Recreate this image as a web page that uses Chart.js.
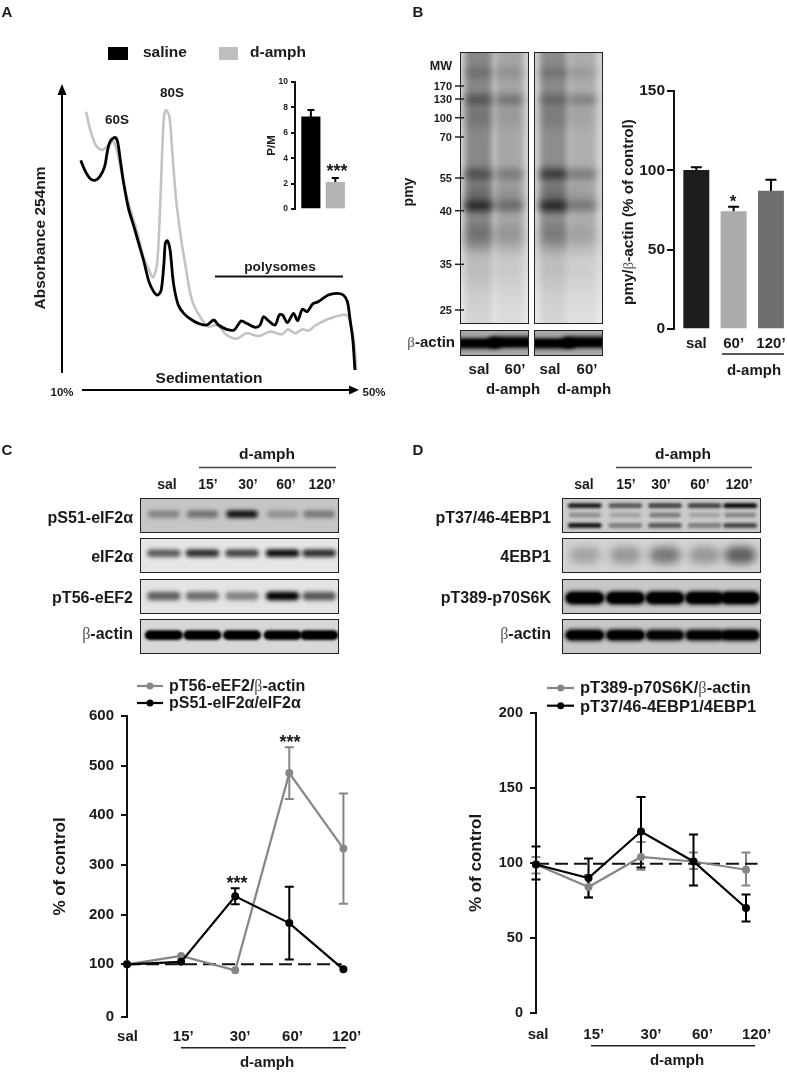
<!DOCTYPE html>
<html>
<head>
<meta charset="utf-8">
<title>Figure</title>
<script src="https://cdn.jsdelivr.net/npm/chart.js@4/dist/chart.umd.js"></script>
<style>
  html, body { margin: 0; padding: 0; background: #fff; }
  #page { position: relative; width: 787px; height: 1072px; overflow: hidden; font-family: "Liberation Sans", Arial, sans-serif; color: #1a1a1a; }
  #page canvas { position: absolute; }
  #page svg { position: absolute; left: 0; top: 0; }
  .t { position: absolute; white-space: nowrap; font-weight: bold; line-height: 1; }
  .b { font-family: "Liberation Serif", serif; font-weight: normal; color: #555; }
  .blot { border: 1.5px solid #222; box-sizing: border-box; }
</style>
</head>
<body>
<div id="page"></div>
<script>
// A: sedimentation profile (gradient %, absorbance)
var salineX = [9.8,10.5,11.2,11.9,12.6,13.3,13.7,14.1,14.8,15.2,15.6,16.1,16.8,17.6,18.3,19.0,19.8,20.5,21.1,21.6,22.0,22.2,22.5,22.9,23.4,24.1,24.9,26.1,27.3,28.3,29.3,30.0,31.2,32.3,33.3,34.1,35.4,36.1,36.6,37.3,38.3,38.9,39.4,40.1,41.0,41.6,42.3,43.0,43.8,44.6,46.1,47.3,48.3,48.9,49.3,49.7,50.0];
var salineY = [62.9,59.5,57.4,56.9,58.0,61.0,65.5,68.5,69.8,68.5,63.0,56.0,48.5,43.0,38.0,33.0,26.5,23.5,22.5,24.0,32.0,38.0,38.8,36.0,26.0,19.5,17.0,15.0,13.8,13.5,15.0,13.5,12.2,12.0,14.7,14.0,12.8,13.5,16.0,14.8,13.5,16.5,16.5,14.2,17.0,14.8,18.2,17.5,19.8,20.5,22.5,23.0,22.5,20.5,15.0,9.0,0];
var amphX = [10.6,11.2,12.0,12.9,13.9,14.6,15.2,15.9,16.8,18.0,19.0,19.8,20.4,21.0,21.4,21.7,22.0,22.3,22.8,23.2,23.7,24.4,25.1,26.1,27.3,28.5,29.8,31.2,32.7,34.1,35.9,37.6,39.3,40.2,41.2,42.3,43.2,44.1,46.1,48.8,49.4,49.9,50.2];
var amphY = [77.5,72.0,67.5,66.0,67.5,68.5,65.0,58.0,50.0,42.0,34.0,30.0,27.8,32.0,47.0,63.0,76.0,78.0,76.0,66.0,53.0,41.0,32.0,21.0,16.0,13.0,13.5,10.5,9.4,11.0,10.2,11.5,10.7,12.2,11.0,12.2,11.8,13.2,15.3,16.5,13.5,8.0,0];

// A inset: P/M
var pmValues = [7.25, 2.1];
var pmHigh = [7.8, 2.45];
var pmTicks = [0, 2, 4, 6, 8, 10];

// B: pmy/actin
var pmyLabels = ['sal', '60\u2019', '120\u2019'];
var pmyValues = [100, 74, 87];
var pmyHigh = [102, 77, 94];
var pmyTicks = [0, 50, 100, 150];

// C and D: time course
var timeLabels = ['sal', '15\u2019', '30\u2019', '60\u2019', '120\u2019'];
var timePos = [0, 1, 2, 3, 4];
var cLabelPos = [0.01, 1.04, 2.09, 3.06, 4.06];
var dLabelPos = [0.04, 1.10, 2.19, 3.17, 4.20];

var eEF2 = [100, 117, 88, 485, 333];
var eEF2Low = [100, 117, 88, 433, 222];
var eEF2High = [100, 117, 88, 537, 444];
var eIF2 = [100, 105, 237, 183, 90];
var eIF2Low = [100, 105, 221, 110, 90];
var eIF2High = [100, 105, 253, 256, 90];
var cTickVals = [-6, 100, 200, 300, 400, 500, 600];
var cTickText = ['0', '100', '200', '300', '400', '500', '600'];

var p70 = [99, 84, 104, 101, 95.5];
var p70Low = [93, 77, 95.5, 96, 85];
var p70High = [104, 92, 114, 107, 107];
var ebp = [99, 90, 121, 101, 70];
var ebpLow = [89, 77, 97, 85, 61];
var ebpHigh = [111, 103, 144, 119, 79];
var dTicks = [0, 50, 100, 150, 200];

// band strength per lane, read by eye from the blots
var pS51Bands = [.32, .42, .9, .26, .38];
var eIF2Bands = [.6, .8, .7, .95, .8];
var pT56Bands = [.58, .52, .42, 1, .62];
var cActinBands = [1, 1, 1, .95, 1];
var ebpTopBands = [.9, .6, .7, .7, 1];
var ebpMidBands = [.3, .2, .4, .2, .35];
var ebpLowBands = [.95, .4, .6, .4, .7];
var ebpTotalBands = [.22, .28, .42, .28, .55];
var p70Bands = [1, 1, 1, 1, 1];
var dActinBands = [1, 1, .85, .9, 1];
var pmyRows = [[.25,.18],[.48,.38],[.2,.1],[.55,.34],[.3,.16],[.9,.46],[.3,.18],[.06,.03]];
var pmyRows2 = [[.25,.16],[.36,.32],[.16,.08],[.78,.38],[.3,.14],[.95,.4],[.24,.14],[.05,.02]];

var page = document.getElementById('page');
var dark = '#111', midGray = '#868686', lightTrace = '#c2c3c4';
Chart.defaults.font.family = '"Liberation Sans", Arial, sans-serif';
Chart.defaults.font.weight = 'bold';
Chart.defaults.color = '#1a1a1a';

var errorBars = {
  id: 'errorBars',
  beforeDatasetsDraw: function (chart) {
    var ctx = chart.ctx, yS = chart.scales.y, xS = chart.scales.x;
    for (var d = chart.data.datasets.length - 1; d >= 0; d--) {
      var ds = chart.data.datasets[d];
      if (!ds.errHigh) continue;
      ctx.save();
      ctx.strokeStyle = ds.errColor || ds.borderColor;
      ctx.lineWidth = ds.errWidth || 2;
      ds.data.forEach(function (pt, i) {
        var x = xS.getPixelForValue(pt.x);
        var hi = yS.getPixelForValue(ds.errHigh[i]);
        var lo = yS.getPixelForValue(ds.errLow ? ds.errLow[i] : pt.y);
        if (hi === lo) return;
        var c = ds.capSize;
        ctx.beginPath();
        ctx.moveTo(x, lo); ctx.lineTo(x, hi);
        ctx.moveTo(x - c, hi); ctx.lineTo(x + c, hi);
        if (ds.errLow) { ctx.moveTo(x - c, lo); ctx.lineTo(x + c, lo); }
        ctx.stroke();
      });
      ctx.restore();
    }
  }
};

// plot box is given in page pixels, canvas is placed round it
function makeChart(box, yW, xH, pad, config) {
  var cv = document.createElement('canvas');
  var w = yW + (box.r - box.l) + pad.r, h = pad.t + (box.b - box.t) + xH + pad.b;
  cv.width = w; cv.height = h;
  cv.style.left = (box.l - yW) + 'px';
  cv.style.top = (box.t - pad.t) + 'px';
  cv.style.width = w + 'px';
  cv.style.height = h + 'px';
  page.appendChild(cv);
  config.options = Object.assign({
    responsive: false, animation: false, devicePixelRatio: 1,
    layout: { autoPadding: false, padding: { top: pad.t, right: pad.r, bottom: pad.b, left: 0 } },
    plugins: { legend: { display: false }, tooltip: { enabled: false }, title: { display: false } }
  }, config.options);
  config.plugins = [errorBars];
  return new Chart(cv.getContext('2d'), config);
}

function yAxis(min, max, vals, text, size, tickLen, yW, labelPad, title, titleSize) {
  return {
    type: 'linear', min: min, max: max,
    border: { display: true, color: dark, width: 2 },
    grid: { display: true, drawOnChartArea: false, drawTicks: true, tickLength: tickLen, color: dark, lineWidth: 2 },
    ticks: { autoSkip: false, padding: labelPad, color: '#1a1a1a', font: { size: size, weight: 'bold' }, callback: function (v, i) { return text[i]; } },
    title: title ? { display: true, text: title, color: '#1a1a1a', padding: 0, font: { size: titleSize, weight: 'bold' } } : { display: false },
    afterBuildTicks: function (s) { s.ticks = vals.map(function (v) { return { value: v }; }); },
    afterFit: function (s) { s.width = yW; }
  };
}

function xAxis(min, max, vals, text, xH, size, padding) {
  return {
    type: 'linear', min: min, max: max, offset: false,
    border: { display: false },
    grid: { display: false, drawTicks: false },
    ticks: { display: !!text, autoSkip: false, maxRotation: 0, padding: padding, color: '#1a1a1a', font: { size: size, weight: 'bold' }, callback: function (v, i) { return text ? text[i] : ''; } },
    afterBuildTicks: function (s) { s.ticks = vals.map(function (v) { return { value: v }; }); },
    afterFit: function (s) { s.height = xH; }
  };
}

function pts(xs, ys) { return xs.map(function (x, i) { return { x: x, y: ys[i] }; }); }

function barSet(values, high, colors, errColors, thick, cap) {
  return {
    data: pts(colors.map(function (c, i) { return i + 1; }), values),
    backgroundColor: colors, barThickness: thick, borderWidth: 0,
    errHigh: high, errColor: errColors, capSize: cap, errWidth: 2
  };
}

function lineSet(values, low, high, color) {
  return {
    data: pts(timePos, values), errLow: low, errHigh: high, capSize: 4.5,
    borderColor: color, backgroundColor: color, borderWidth: 2.2, tension: 0,
    pointRadius: 4, pointBackgroundColor: color, pointBorderWidth: 0, clip: false
  };
}

function dashSet(y, endX) {
  return { data: [{ x: 0, y: y }, { x: endX, y: y }], borderColor: dark, borderWidth: 2, borderDash: [13, 6], pointRadius: 0, tension: 0, clip: false };
}

// A trace
makeChart({ l: 48, t: 80, r: 389, b: 380 }, 0, 0, { t: 0, r: 0, b: 0 }, {
  type: 'line',
  data: { datasets: [
    { data: pts(salineX, salineY), borderColor: '#000', borderWidth: 2.8, pointRadius: 0, tension: .3, clip: false },
    { data: pts(amphX, amphY), borderColor: lightTrace, borderWidth: 2.6, pointRadius: 0, tension: .3, clip: false }
  ] },
  options: { scales: {
    x: { type: 'linear', display: false, min: 5, max: 55 },
    y: { type: 'linear', display: false, min: -3, max: 87 }
  } }
});

// A inset
makeChart({ l: 295, t: 82, r: 350, b: 209 }, 30, 0, { t: 12, r: 0, b: 12 }, {
  type: 'bar',
  data: { datasets: [barSet(pmValues, pmHigh, ['#000', '#b1b3b5'], ['#111', '#b1b3b5'], 18.5, 3.5)] },
  options: { scales: {
    x: xAxis(0.352, 2.6, [1, 2], null, 0, 8, 0),
    y: yAxis(0, 10, pmTicks, pmTicks, 8.5, 4, 30, 3, 'P/M', 11.5)
  } }
});

// B bars
makeChart({ l: 674, t: 91, r: 787, b: 329 }, 40, 24, { t: 16, r: 10, b: 0 }, {
  type: 'bar',
  data: { datasets: [barSet(pmyValues, pmyHigh, ['#1d1d1f', '#a9abad', '#6d6e70'], ['#1d1d1f', '#a9abad', '#6d6e70'], 25.3, 5.5)] },
  options: { scales: {
    x: xAxis(0.402, 3.43, [1, 2, 3], pmyLabels, 24, 15, 6),
    y: yAxis(0, 150, pmyTicks, pmyTicks, 15.5, 7, 40, 2)
  } }
});

// C line chart
makeChart({ l: 127, t: 716, r: 355, b: 1017 }, 77, 30, { t: 20, r: 30, b: 0 }, {
  type: 'line',
  data: { datasets: [
    lineSet(eIF2, eIF2Low, eIF2High, '#000'),
    lineSet(eEF2, eEF2Low, eEF2High, midGray),
    dashSet(100, 3.97)
  ] },
  options: { scales: {
    x: xAxis(0, 228 / 54.1, cLabelPos, timeLabels, 30, 15, 11),
    y: yAxis(-6, 600, cTickVals, cTickText, 15, 6, 77, 7, '% of control', 17)
  } }
});

// D line chart
makeChart({ l: 536, t: 713, r: 758, b: 1013 }, 70, 30, { t: 20, r: 30, b: 0 }, {
  type: 'line',
  data: { datasets: [
    lineSet(ebp, ebpLow, ebpHigh, '#000'),
    lineSet(p70, p70Low, p70High, midGray),
    dashSet(99.5, 4.22)
  ] },
  options: { scales: {
    x: xAxis(0, 222 / 52.5, dLabelPos, timeLabels, 30, 15, 13),
    y: yAxis(0, 200, dTicks, dTicks, 14.5, 6, 70, 7, '% of control', 17)
  } }
});

// blots
function blot(x, y, w, h, bg, paint) {
  var cv = document.createElement('canvas');
  cv.width = w; cv.height = h;
  cv.className = 'blot';
  cv.style.left = x + 'px'; cv.style.top = y + 'px';
  cv.style.width = w + 'px'; cv.style.height = h + 'px';
  var ctx = cv.getContext('2d');
  ctx.fillStyle = bg;
  ctx.fillRect(0, 0, w, h);
  paint(ctx);
  ctx.filter = 'none';
  page.appendChild(cv);
}

function bandRow(ctx, lanes, vals, yc, halfW, halfH, blur) {
  ctx.filter = 'blur(' + blur + 'px)';
  lanes.forEach(function (lx, i) {
    ctx.fillStyle = 'rgba(0,0,0,' + vals[i] + ')';
    ctx.beginPath();
    ctx.roundRect(lx - halfW, yc - halfH, 2 * halfW, 2 * halfH, halfH);
    ctx.fill();
  });
}

var cLanes = [23, 62, 102, 143, 180];
var dLanes = [22, 63, 103, 143, 179];
var rowTops = [498, 538, 579, 619];

blot(140, rowTops[0], 199, 35, '#c6c6c6', function (c) { bandRow(c, cLanes, pS51Bands, 16, 16, 4, 2.2); });
blot(140, rowTops[1], 199, 35, '#e6e6e6', function (c) { bandRow(c, cLanes, eIF2Bands, 15, 17, 4, 2); });
blot(140, rowTops[2], 199, 35, '#e4e4e4', function (c) { bandRow(c, cLanes, pT56Bands, 17, 17, 4.5, 2); });
blot(140, rowTops[3], 199, 35, '#d8d8d8', function (c) { bandRow(c, cLanes, cActinBands, 16, 19, 5, 1.5); bandRow(c, cLanes, cActinBands, 16, 18, 3.5, 1); });

blot(562, rowTops[0], 199, 35, '#cbcbcb', function (c) {
  bandRow(c, dLanes, ebpTopBands, 7, 17, 2.6, 1.7);
  bandRow(c, dLanes, ebpMidBands, 17, 16, 2.4, 1.8);
  bandRow(c, dLanes, ebpLowBands, 28, 17, 2.6, 1.7);
});
blot(562, rowTops[1], 199, 35, '#d4d4d4', function (c) { bandRow(c, dLanes, ebpTotalBands, 17, 16, 9, 4); });
blot(562, rowTops[2], 199, 35, '#c8c8c8', function (c) { bandRow(c, dLanes, p70Bands, 19, 20, 7, 2); bandRow(c, dLanes, p70Bands, 19, 18, 5, 1); });
blot(562, rowTops[3], 199, 35, '#c8c8c8', function (c) { bandRow(c, dLanes, dActinBands, 16, 20, 6, 2); bandRow(c, dLanes, dActinBands, 16, 18, 4, 1); });

var pmyRowY = [20, 47, 65, 122, 142, 154, 185, 220];
var pmyRowH = [5, 6, 10, 6, 10, 6, 12, 15];
function pmyPanel(x, w, lanes, rows, laneTone) {
  blot(x, 52, w, 272, '#d4d4d4', function (c) {
    var fade = c.createLinearGradient(0, 0, 0, 272);
    fade.addColorStop(0, 'rgba(255,255,255,0)');
    fade.addColorStop(.7, 'rgba(255,255,255,.1)');
    fade.addColorStop(1, 'rgba(255,255,255,.55)');
    c.fillStyle = fade;
    c.fillRect(0, 0, w, 272);
    c.filter = 'blur(3px)';
    lanes.forEach(function (lx, i) {
      var g = c.createLinearGradient(0, 0, 0, 272);
      g.addColorStop(0, 'rgba(0,0,0,' + laneTone[i] + ')');
      g.addColorStop(.66, 'rgba(0,0,0,' + laneTone[i] + ')');
      g.addColorStop(.76, 'rgba(0,0,0,' + (laneTone[i] * .35) + ')');
      g.addColorStop(1, 'rgba(0,0,0,' + (laneTone[i] * .25) + ')');
      c.fillStyle = g;
      c.fillRect(lx - 14, -10, 28, 292);
    });
    pmyRowY.forEach(function (yc, r) {
      bandRow(c, lanes, rows[r], yc, 15, pmyRowH[r] * .7, pmyRowH[r] * .5 + 1.5);
    });
  });
}
pmyPanel(460, 69, [18, 50], pmyRows, [.36, .22]);
pmyPanel(534, 69, [19, 49], pmyRows2, [.34, .18]);
function actinStrip(x, w) {
  blot(x, 330, w, 26, '#a8a8a8', function (c) {
    bandRow(c, [w * .25], [1], 13.5, w * .36, 5.5, 2);
    bandRow(c, [w * .75], [1], 12, w * .36, 6, 2);
    bandRow(c, [w * .25, w * .75], [.8, .9], 13, w * .3, 3.5, 1);
  });
}
actinStrip(460, 69);
actinStrip(534, 69);

// lines and arrows
var svgNS = 'http://www.w3.org/2000/svg';
var svg = document.createElementNS(svgNS, 'svg');
svg.setAttribute('width', 787); svg.setAttribute('height', 1072);
page.appendChild(svg);
function seg(x1, y1, x2, y2, color, w) {
  var l = document.createElementNS(svgNS, 'line');
  l.setAttribute('x1', x1); l.setAttribute('y1', y1); l.setAttribute('x2', x2); l.setAttribute('y2', y2);
  l.setAttribute('stroke', color || '#111'); l.setAttribute('stroke-width', w || 1.5);
  svg.appendChild(l);
}
function tri(p) {
  var t = document.createElementNS(svgNS, 'polygon');
  t.setAttribute('points', p); t.setAttribute('fill', '#000');
  svg.appendChild(t);
}
function dot(x, y, color) {
  var c = document.createElementNS(svgNS, 'circle');
  c.setAttribute('cx', x); c.setAttribute('cy', y); c.setAttribute('r', 3.5); c.setAttribute('fill', color);
  svg.appendChild(c);
}
function swatch(x, y, w, h, color) {
  var r = document.createElementNS(svgNS, 'rect');
  r.setAttribute('x', x); r.setAttribute('y', y); r.setAttribute('width', w); r.setAttribute('height', h); r.setAttribute('fill', color);
  svg.appendChild(r);
}
seg(62, 373, 62, 90, '#000', 2); tri('62,84 57.5,95 66.5,95');
seg(82, 390, 352, 390, '#000', 2); tri('359,390 349,385.5 349,394.5');
swatch(108, 47, 20, 13, '#000'); swatch(219, 47, 19, 13, '#bdbebf');
seg(215, 276.5, 343, 276.5, '#111', 2);
seg(722, 354, 784, 354, '#222', 1.5);
seg(199, 467.5, 336, 467.5, '#444', 1.5);
seg(616, 467.5, 752, 467.5, '#444', 1.5);
seg(181, 1047.7, 346, 1047.7, '#222', 1.5);
seg(591, 1045.7, 755, 1045.7, '#222', 1.5);
[86, 99, 117.7, 137, 178, 210.7, 264.3, 310].forEach(function (y) { seg(455, y, 464, y, '#222', 1.5); });
seg(137, 686, 163, 686, midGray, 2.2); dot(150, 686, midGray);
seg(137, 703, 163, 703, '#000', 2.2); dot(150, 703, '#000');
seg(547, 688, 574, 688, midGray, 2.2); dot(560.7, 688, midGray);
seg(547, 705.7, 574, 705.7, '#000', 2.2); dot(560.7, 705.7, '#000');

// text
function txt(html, x, y, size, align, rot) {
  var d = document.createElement('div');
  d.className = 't';
  d.innerHTML = html;
  d.style.left = x + 'px'; d.style.top = y + 'px';
  d.style.fontSize = size + 'px';
  var tx = align === 'r' ? '-100%' : align === 'l' ? '0' : '-50%';
  d.style.transform = 'translate(' + tx + ',-50%)' + (rot ? ' rotate(-90deg)' : '');
  page.appendChild(d);
}
var beta = '<span class="b">\u03B2</span>';

txt('A', 7, 11, 15); txt('B', 418, 11, 15); txt('C', 7, 449, 15); txt('D', 418, 449, 15);
txt('saline', 143, 52, 15.5, 'l'); txt('d-amph', 250, 52, 15.5, 'l');
txt('60S', 117, 120, 13.5); txt('80S', 172, 93, 13.5);
txt('polysomes', 280, 267, 13.7);
txt('Absorbance 254nm', 40, 238, 15.5, 'c', true);
txt('Sedimentation', 209, 378, 15.5);
txt('10%', 62, 393, 11.5); txt('50%', 374, 393, 11.5);
txt('***', 337, 171, 18);

txt('MW', 452, 66, 12.5, 'r');
[['170', 86], ['130', 99], ['100', 117.7], ['70', 137], ['55', 178], ['40', 210.7], ['35', 264.3], ['25', 310]].forEach(function (m) { txt(m[0], 452, m[1], 11, 'r'); });
txt('pmy', 408, 192, 14, 'c', true);
txt(beta + '-actin', 455, 342, 15, 'r');
txt('sal', 479, 368, 15); txt('60\u2019', 515, 368, 15); txt('sal', 550, 368, 15); txt('60\u2019', 587, 368, 15);
txt('d-amph', 513, 388, 15); txt('d-amph', 584, 388, 15);
txt('pmy/' + beta + '-actin (% of control)', 628, 212, 15.2, 'c', true);
txt('*', 733, 201, 17);
txt('d-amph', 754, 369, 15);

function blotLabels(rightX, names, colX, lineMid) {
  var ys = [518, 557, 598, 634];
  names.forEach(function (n, i) { txt(n, rightX, ys[i], 16, 'r'); });
  timeLabels.forEach(function (n, i) { txt(n, colX[i], 484, 14); });
  txt('d-amph', lineMid, 454, 15.5);
}
blotLabels(133, ['pS51-eIF2\u03B1', 'eIF2\u03B1', 'pT56-eEF2', beta + '-actin'], [167, 208, 248, 286, 322], 267);
blotLabels(551, ['pT37/46-4EBP1', '4EBP1', 'pT389-p70S6K', beta + '-actin'], [584, 626, 661, 700, 739], 683);

txt('pT56-eEF2/' + beta + '-actin', 169, 686, 16, 'l');
txt('pS51-eIF2\u03B1/eIF2\u03B1', 169, 703, 16, 'l');
txt('pT389-p70S6K/' + beta + '-actin', 580, 688, 16.5, 'l');
txt('pT37/46-4EBP1/4EBP1', 580, 706, 16.5, 'l');
txt('***', 237, 883, 18); txt('***', 290, 742, 18);
txt('d-amph', 267, 1061, 15); txt('d-amph', 677, 1059, 15);
</script>
</body>
</html>
